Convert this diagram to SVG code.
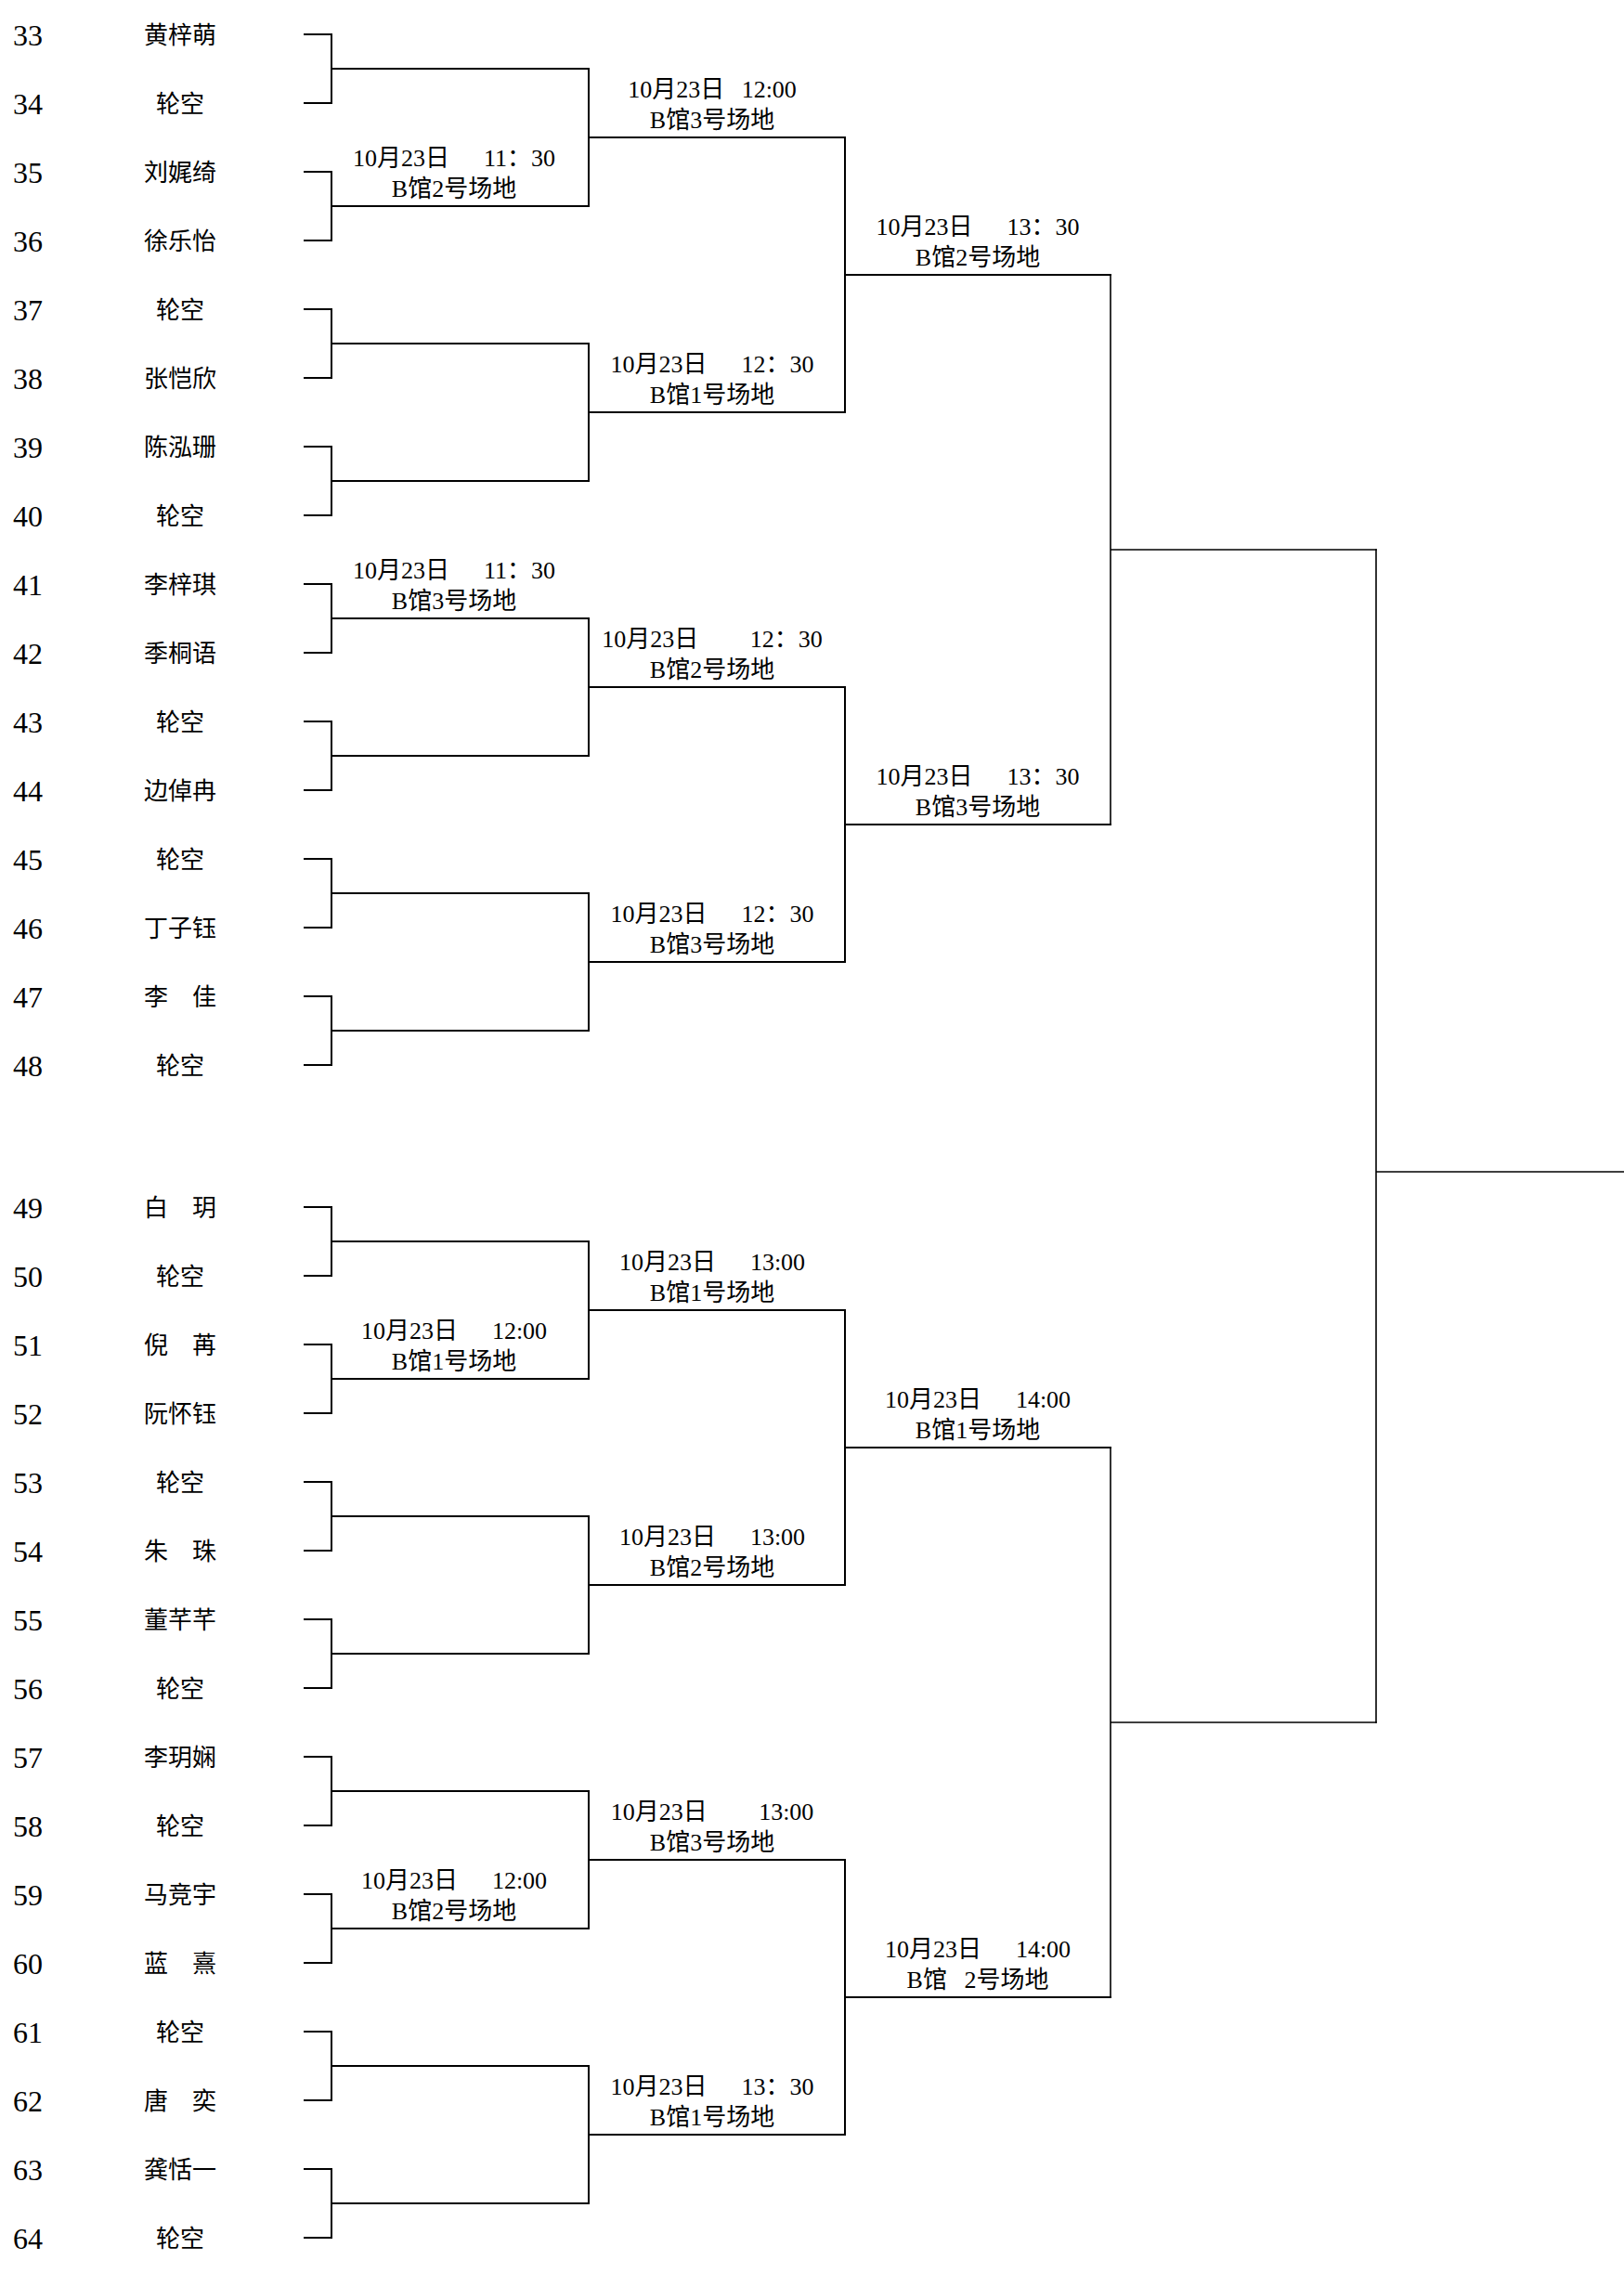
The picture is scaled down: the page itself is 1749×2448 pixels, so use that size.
<svg xmlns="http://www.w3.org/2000/svg" width="1749" height="2448" viewBox="0 0 1749 2448" xml:space="preserve">
<style>
text{white-space:pre;fill:#000;}
.num{font-family:"Liberation Serif","Noto Sans CJK SC",serif;font-size:32px;}
.name{font-family:"Liberation Serif","Noto Sans CJK SC",serif;font-size:26px;text-anchor:middle;word-spacing:6.5px;}
.lab{font-family:"Liberation Serif","Noto Sans CJK SC",serif;font-size:26px;text-anchor:middle;word-spacing:12px;}
.ln{fill:none;stroke:#000;stroke-width:2;stroke-linecap:square;stroke-linejoin:miter;}
.ln2{fill:none;stroke:#000;stroke-width:1.6;stroke-linecap:square;stroke-linejoin:miter;}
</style>
<rect x="0" y="0" width="1749" height="2448" fill="#fff"/>
<g id="connectors">
<path class="ln" d="M328 37H357V111H328M357 74H634"/>
<path class="ln" d="M328 185H357V259H328M357 222H634"/>
<path class="ln" d="M328 333H357V407H328M357 370H634"/>
<path class="ln" d="M328 481H357V555H328M357 518H634"/>
<path class="ln" d="M328 629H357V703H328M357 666H634"/>
<path class="ln" d="M328 777H357V851H328M357 814H634"/>
<path class="ln" d="M328 925H357V999H328M357 962H634"/>
<path class="ln" d="M328 1073H357V1147H328M357 1110H634"/>
<path class="ln" d="M328 1300H357V1374H328M357 1337H634"/>
<path class="ln" d="M328 1448H357V1522H328M357 1485H634"/>
<path class="ln" d="M328 1596H357V1670H328M357 1633H634"/>
<path class="ln" d="M328 1744H357V1818H328M357 1781H634"/>
<path class="ln" d="M328 1892H357V1966H328M357 1929H634"/>
<path class="ln" d="M328 2040H357V2114H328M357 2077H634"/>
<path class="ln" d="M328 2188H357V2262H328M357 2225H634"/>
<path class="ln" d="M328 2336H357V2410H328M357 2373H634"/>
<path class="ln" d="M634 74V222M634 148H910"/>
<path class="ln" d="M634 370V518M634 444H910"/>
<path class="ln" d="M634 666V814M634 740H910"/>
<path class="ln" d="M634 962V1110M634 1036H910"/>
<path class="ln" d="M634 1337V1485M634 1411H910"/>
<path class="ln" d="M634 1633V1781M634 1707H910"/>
<path class="ln" d="M634 1929V2077M634 2003H910"/>
<path class="ln" d="M634 2225V2373M634 2299H910"/>
<path class="ln" d="M910 148V444M910 296H1196"/>
<path class="ln" d="M910 740V1036M910 888H1196"/>
<path class="ln" d="M910 1411V1707M910 1559H1196"/>
<path class="ln" d="M910 2003V2299M910 2151H1196"/>
<path class="ln2" d="M1196 296V888M1196 592H1482"/>
<path class="ln2" d="M1196 1559V2151M1196 1855H1482"/>
<path class="ln2" d="M1482 592V1855M1482 1262H1749"/>
</g>
<g id="p33"><text class="num" x="14" y="49">33</text><text class="name" x="194" y="47">黄梓萌</text></g>
<g id="p34"><text class="num" x="14" y="123">34</text><text class="name" x="194" y="121">轮空</text></g>
<g id="p35"><text class="num" x="14" y="197">35</text><text class="name" x="194" y="195">刘娓绮</text></g>
<g id="p36"><text class="num" x="14" y="271">36</text><text class="name" x="194" y="269">徐乐怡</text></g>
<g id="p37"><text class="num" x="14" y="345">37</text><text class="name" x="194" y="343">轮空</text></g>
<g id="p38"><text class="num" x="14" y="419">38</text><text class="name" x="194" y="417">张恺欣</text></g>
<g id="p39"><text class="num" x="14" y="493">39</text><text class="name" x="194" y="491">陈泓珊</text></g>
<g id="p40"><text class="num" x="14" y="567">40</text><text class="name" x="194" y="565">轮空</text></g>
<g id="p41"><text class="num" x="14" y="641">41</text><text class="name" x="194" y="639">李梓琪</text></g>
<g id="p42"><text class="num" x="14" y="715">42</text><text class="name" x="194" y="713">季桐语</text></g>
<g id="p43"><text class="num" x="14" y="789">43</text><text class="name" x="194" y="787">轮空</text></g>
<g id="p44"><text class="num" x="14" y="863">44</text><text class="name" x="194" y="861">边倬冉</text></g>
<g id="p45"><text class="num" x="14" y="937">45</text><text class="name" x="194" y="935">轮空</text></g>
<g id="p46"><text class="num" x="14" y="1011">46</text><text class="name" x="194" y="1009">丁子钰</text></g>
<g id="p47"><text class="num" x="14" y="1085">47</text><text class="name" x="194" y="1083">李  佳</text></g>
<g id="p48"><text class="num" x="14" y="1159">48</text><text class="name" x="194" y="1157">轮空</text></g>
<g id="p49"><text class="num" x="14" y="1312">49</text><text class="name" x="194" y="1310">白  玥</text></g>
<g id="p50"><text class="num" x="14" y="1386">50</text><text class="name" x="194" y="1384">轮空</text></g>
<g id="p51"><text class="num" x="14" y="1460">51</text><text class="name" x="194" y="1458">倪  苒</text></g>
<g id="p52"><text class="num" x="14" y="1534">52</text><text class="name" x="194" y="1532">阮怀钰</text></g>
<g id="p53"><text class="num" x="14" y="1608">53</text><text class="name" x="194" y="1606">轮空</text></g>
<g id="p54"><text class="num" x="14" y="1682">54</text><text class="name" x="194" y="1680">朱  珠</text></g>
<g id="p55"><text class="num" x="14" y="1756">55</text><text class="name" x="194" y="1754">董芊芊</text></g>
<g id="p56"><text class="num" x="14" y="1830">56</text><text class="name" x="194" y="1828">轮空</text></g>
<g id="p57"><text class="num" x="14" y="1904">57</text><text class="name" x="194" y="1902">李玥娴</text></g>
<g id="p58"><text class="num" x="14" y="1978">58</text><text class="name" x="194" y="1976">轮空</text></g>
<g id="p59"><text class="num" x="14" y="2052">59</text><text class="name" x="194" y="2050">马竞宇</text></g>
<g id="p60"><text class="num" x="14" y="2126">60</text><text class="name" x="194" y="2124">蓝  熹</text></g>
<g id="p61"><text class="num" x="14" y="2200">61</text><text class="name" x="194" y="2198">轮空</text></g>
<g id="p62"><text class="num" x="14" y="2274">62</text><text class="name" x="194" y="2272">唐  奕</text></g>
<g id="p63"><text class="num" x="14" y="2348">63</text><text class="name" x="194" y="2346">龚恬一</text></g>
<g id="p64"><text class="num" x="14" y="2422">64</text><text class="name" x="194" y="2420">轮空</text></g>
<g id="m1"><text class="lab" x="767" y="105">10月23日 12:00</text><text class="lab" x="767" y="138">B馆3号场地</text></g>
<g id="m2"><text class="lab" x="489" y="179">10月23日  11：30</text><text class="lab" x="489" y="212">B馆2号场地</text></g>
<g id="m3"><text class="lab" x="1053" y="253">10月23日  13：30</text><text class="lab" x="1053" y="286">B馆2号场地</text></g>
<g id="m4"><text class="lab" x="767" y="401">10月23日  12：30</text><text class="lab" x="767" y="434">B馆1号场地</text></g>
<g id="m5"><text class="lab" x="489" y="623">10月23日  11：30</text><text class="lab" x="489" y="656">B馆3号场地</text></g>
<g id="m6"><text class="lab" x="767" y="697">10月23日   12：30</text><text class="lab" x="767" y="730">B馆2号场地</text></g>
<g id="m7"><text class="lab" x="1053" y="845">10月23日  13：30</text><text class="lab" x="1053" y="878">B馆3号场地</text></g>
<g id="m8"><text class="lab" x="767" y="993">10月23日  12：30</text><text class="lab" x="767" y="1026">B馆3号场地</text></g>
<g id="m9"><text class="lab" x="767" y="1368">10月23日  13:00</text><text class="lab" x="767" y="1401">B馆1号场地</text></g>
<g id="m10"><text class="lab" x="489" y="1442">10月23日  12:00</text><text class="lab" x="489" y="1475">B馆1号场地</text></g>
<g id="m11"><text class="lab" x="1053" y="1516">10月23日  14:00</text><text class="lab" x="1053" y="1549">B馆1号场地</text></g>
<g id="m12"><text class="lab" x="767" y="1664">10月23日  13:00</text><text class="lab" x="767" y="1697">B馆2号场地</text></g>
<g id="m13"><text class="lab" x="767" y="1960">10月23日   13:00</text><text class="lab" x="767" y="1993">B馆3号场地</text></g>
<g id="m14"><text class="lab" x="489" y="2034">10月23日  12:00</text><text class="lab" x="489" y="2067">B馆2号场地</text></g>
<g id="m15"><text class="lab" x="1053" y="2108">10月23日  14:00</text><text class="lab" x="1053" y="2141">B馆 2号场地</text></g>
<g id="m16"><text class="lab" x="767" y="2256">10月23日  13：30</text><text class="lab" x="767" y="2289">B馆1号场地</text></g>
</svg>
